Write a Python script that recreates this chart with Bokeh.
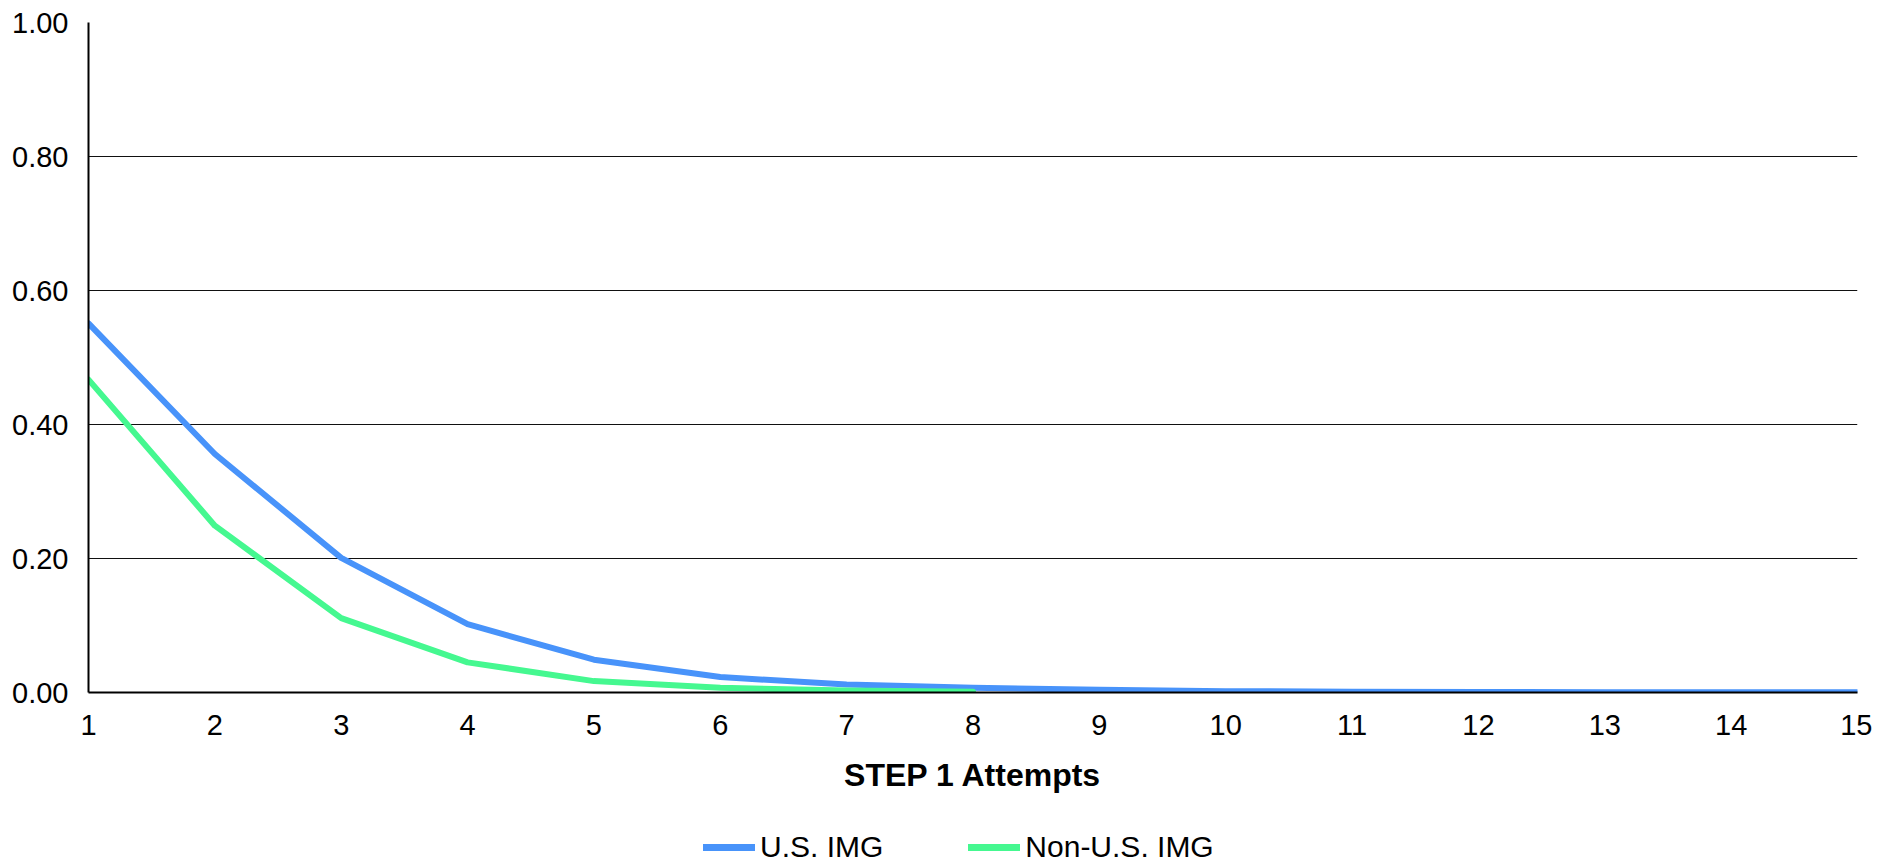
from bokeh.plotting import figure
from bokeh.layouts import column
from bokeh.models import Legend, LegendItem, FixedTicker, NumeralTickFormatter, Range1d, Title
from bokeh.embed import file_html
from bokeh.resources import INLINE

attempts_us = [1, 2, 3, 4, 5, 6, 7, 8, 9, 10, 11, 12, 13, 14, 15]
us_img = [0.551, 0.356, 0.201, 0.102, 0.049, 0.023, 0.012, 0.007, 0.004, 0.002,
          0.0012, 0.0008, 0.0005, 0.0003, 0.0002]
attempts_non_us = [1, 2, 3, 4, 5, 6, 7, 8]
non_us_img = [0.467, 0.249, 0.111, 0.045, 0.017, 0.007, 0.003, 0.001]
y_ticks = [0.0, 0.2, 0.4, 0.6, 0.8, 1.0]
x_ticks = list(range(1, 16))
series_names = ["U.S. IMG", "Non-U.S. IMG"]
x_title = "STEP 1 Attempts"
colors = ["#4893FA", "#45F890"]

FONT = "Liberation Sans"
LW = 6

p = figure(frame_width=1769, frame_height=670, output_backend="svg",
           toolbar_location=None,
           x_range=Range1d(1, 15), y_range=Range1d(0, 1),
           min_border_left=88, min_border_right=15, min_border_top=22,
           min_border_bottom=0)
p.outline_line_color = None
p.background_fill_color = "white"
p.border_fill_color = "white"

r1 = p.line(attempts_us, us_img, line_color=colors[0], line_width=LW,
            line_cap="round", line_join="round")
r2 = p.line(attempts_non_us, non_us_img, line_color=colors[1], line_width=LW,
            line_cap="round", line_join="round")

p.xgrid.grid_line_color = None
p.ygrid.grid_line_color = "#111111"
p.ygrid.grid_line_width = 1
p.ygrid.ticker = FixedTicker(ticks=y_ticks)

p.yaxis.ticker = FixedTicker(ticks=y_ticks)
p.yaxis.formatter = NumeralTickFormatter(format="0.00")
p.xaxis.ticker = FixedTicker(ticks=x_ticks)

for ax in (p.xaxis[0], p.yaxis[0]):
    ax.axis_line_color = "black"
    ax.axis_line_width = 2
    ax.major_tick_line_color = None
    ax.minor_tick_line_color = None
    ax.major_tick_out = 0
    ax.major_tick_in = 0
    ax.major_label_text_font = FONT
    ax.major_label_text_font_size = "29px"
    ax.major_label_text_color = "black"

p.yaxis.major_label_standoff = 20
p.xaxis.major_label_standoff = 22

title = Title(text=x_title, align="center", standoff=34,
              text_font=FONT, text_font_style="bold", text_font_size="32px",
              text_color="black")
p.add_layout(title, "below")

# legend strip below the chart
lg = figure(frame_width=1872, frame_height=55, output_backend="svg",
            toolbar_location=None, x_range=Range1d(1, 15), y_range=Range1d(0, 1),
            min_border=0)
lg.axis.visible = False
lg.grid.visible = False
lg.outline_line_color = None
lg.border_fill_color = "white"
l1 = lg.line(attempts_us, us_img, line_color=colors[0], line_width=7,
             line_cap="round", visible=False)
l2 = lg.line(attempts_non_us, non_us_img, line_color=colors[1], line_width=7,
             line_cap="round", visible=False)
legend = Legend(items=[LegendItem(label=series_names[0], renderers=[l1]),
                       LegendItem(label=series_names[1], renderers=[l2])],
                orientation="horizontal", location=(703, 0),
                padding=0, margin=0, spacing=85, glyph_width=52,
                glyph_height=20, label_standoff=5, label_height=20,
                label_text_font=FONT, label_text_font_size="30px",
                label_text_color="black", inactive_fill_alpha=0,
                border_line_color=None, background_fill_alpha=0)
lg.add_layout(legend, "center")

layout = column(p, lg, spacing=0)
open("out.html", "w").write(file_html(layout, INLINE))
